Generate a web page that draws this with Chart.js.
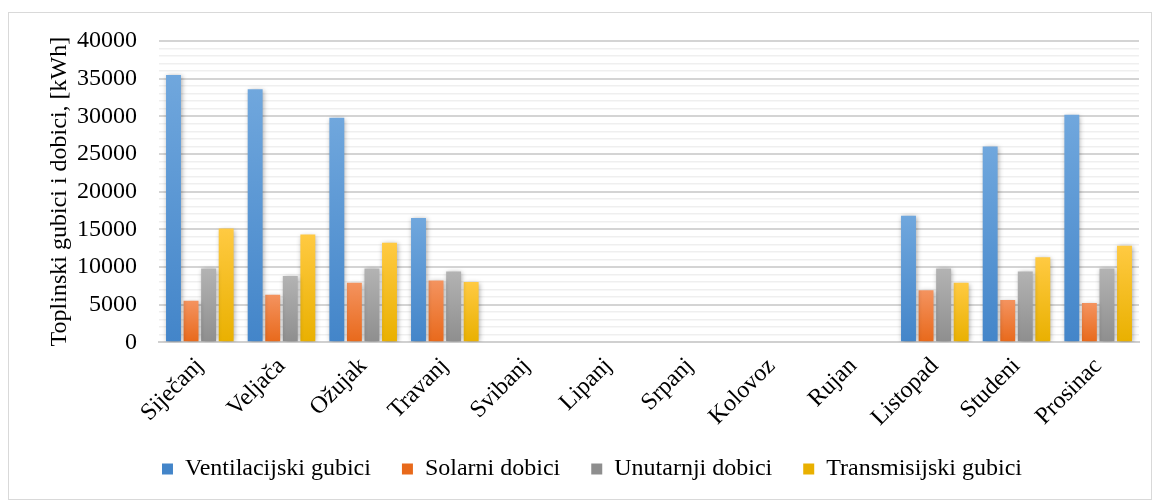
<!DOCTYPE html>
<html>
<head>
<meta charset="utf-8">
<script src="https://cdn.jsdelivr.net/npm/chart.js@4"></script>
<style>
    body { margin: 0; background: #fff; }
    #frame { position: absolute; left: 8px; top: 12px; width: 1142px; height: 486px; border: 1px solid #d9d9d9; }
    #chart-box { position: relative; width: 1142px; height: 486px; }
</style>
</head>
<body>
<div id="frame"><div id="chart-box"><canvas id="losses-chart"></canvas></div></div>
<script>
const months = ['Siječanj', 'Veljača', 'Ožujak', 'Travanj', 'Svibanj', 'Lipanj', 'Srpanj', 'Kolovoz', 'Rujan', 'Listopad', 'Studeni', 'Prosinac']
const ventilacijski = [35500, 33600, 29800, 16500, 0, 0, 0, 0, 0, 16800, 26000, 30200]
const solarni = [5500, 6300, 7900, 8200, 0, 0, 0, 0, 0, 6900, 5600, 5200]
const unutarnji = [9800, 8800, 9800, 9400, 0, 0, 0, 0, 0, 9800, 9400, 9800]
const transmisijski = [15100, 14300, 13200, 8000, 0, 0, 0, 0, 0, 7900, 11300, 12800]

// top and bottom colour of each bar gradient
const palette = {
    blue: ['#70a7dd', '#4385c9'],
    orange: ['#f4935f', '#e8691b'],
    gray: ['#b3b3b3', '#8e8e8e'],
    yellow: ['#ffca42', '#e9b000']
}

function barGradient(colors) {
    return function (context) {
        const chart = context.chart
        if (!chart.chartArea || context.parsed == null) {
            return colors[1]
        }
        const yScale = chart.scales.y
        const top = yScale.getPixelForValue(context.parsed.y)
        const bottom = yScale.getPixelForValue(0)
        if (bottom - top < 1) {
            return colors[1]
        }
        const grad = chart.ctx.createLinearGradient(0, top, 0, bottom)
        grad.addColorStop(0, colors[0])
        grad.addColorStop(1, colors[1])
        return grad
    }
}

function makeDataset(label, values, colors) {
    return {
        label: label,
        data: values,
        backgroundColor: barGradient(colors),
        borderWidth: 0,
        categoryPercentage: 0.86,
        barPercentage: 0.85
    }
}

const shadowPlugin = {
    id: 'barShadow',
    beforeDatasetsDraw(chart) {
        const ctx = chart.ctx
        ctx.save()
        ctx.shadowColor = 'rgba(0,0,0,0.35)'
        ctx.shadowBlur = 5
        ctx.shadowOffsetX = 1
        ctx.shadowOffsetY = 1
    },
    afterDatasetsDraw(chart) {
        chart.ctx.restore()
    }
}

const serif = 'Liberation Serif'

const data = {
    labels: months,
    datasets: [
        makeDataset('Ventilacijski gubici', ventilacijski, palette.blue),
        makeDataset('Solarni dobici', solarni, palette.orange),
        makeDataset('Unutarnji dobici', unutarnji, palette.gray),
        makeDataset('Transmisijski gubici', transmisijski, palette.yellow)
    ]
}

const config = {
    type: 'bar',
    data: data,
    plugins: [shadowPlugin],
    options: {
        responsive: true,
        maintainAspectRatio: false,
        animation: false,
        layout: {
            padding: { top: 7, right: 12, bottom: 8, left: 36 }
        },
        plugins: {
            legend: {
                position: 'bottom',
                labels: {
                    boxWidth: 11,
                    boxHeight: 11,
                    padding: 31,
                    color: '#000',
                    font: { family: serif, size: 24 },
                    generateLabels(chart) {
                        return chart.data.datasets.map((ds, i) => {
                            const key = Object.keys(palette)[i]
                            return {
                                text: ds.label,
                                fillStyle: palette[key][1],
                                strokeStyle: palette[key][1],
                                lineWidth: 0,
                                datasetIndex: i
                            }
                        })
                    }
                }
            },
            tooltip: { enabled: false }
        },
        scales: {
            x: {
                grid: { display: false },
                border: { display: true, color: '#d0d0d0', width: 2 },
                afterFit: (scale) => { scale.height -= 8 },
                ticks: {
                    color: '#000',
                    minRotation: 45,
                    maxRotation: 45,
                    padding: 2,
                    font: { family: serif, size: 24 }
                }
            },
            y: {
                min: 0,
                max: 40000,
                border: { display: false },
                afterFit: (scale) => {
                    scale.width = 114
                    scale.paddingTop = 28
                },
                grid: {
                    drawTicks: false,
                    color: (ctx) => ctx.tick.value % 5000 == 0 ? '#d4d4d4' : '#efefef',
                    lineWidth: (ctx) => ctx.tick.value % 5000 == 0 ? 2 : 1.5
                },
                ticks: {
                    stepSize: 1000,
                    autoSkip: false,
                    padding: 22,
                    color: '#000',
                    font: { family: serif, size: 24 },
                    callback: (value) => value % 5000 == 0 ? String(value) : ''
                },
                title: {
                    display: true,
                    text: 'Toplinski gubici i dobici, [kWh]',
                    color: '#000',
                    padding: { top: 0, bottom: 4 },
                    font: { family: serif, size: 24 }
                }
            }
        }
    }
}

const ctx = document.getElementById('losses-chart')
new Chart(ctx, config)
</script>
</body>
</html>
